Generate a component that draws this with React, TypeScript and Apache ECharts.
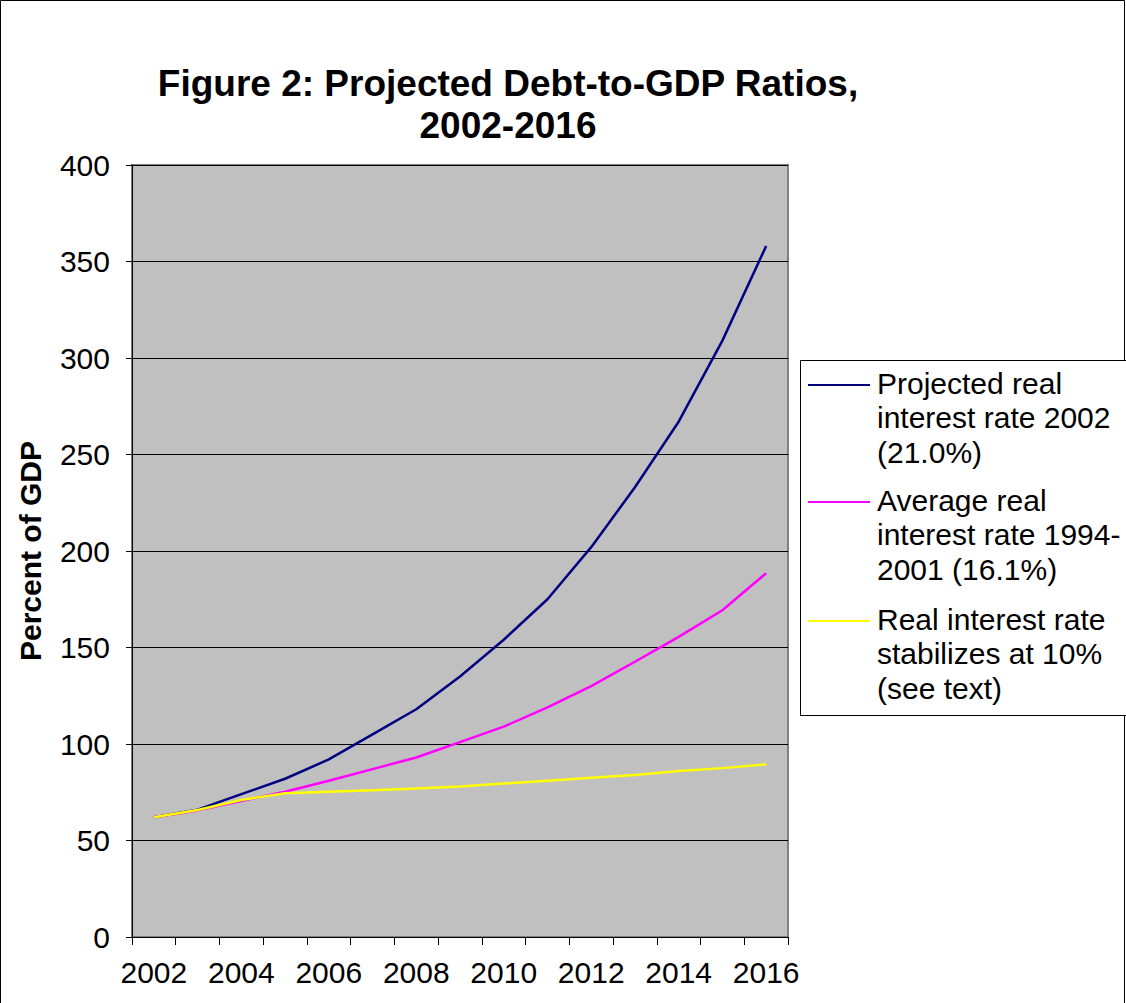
import React, { useEffect, useRef } from "react";
import * as echarts from "echarts";

const years = ["2002","2003","2004","2005","2006","2007","2008","2009","2010","2011","2012","2013","2014","2015","2016"];
const seriesNames = [
  "Projected real\ninterest rate 2002\n(21.0%)",
  "Average real\ninterest rate 1994-\n2001 (16.1%)",
  "Real interest rate\nstabilizes at 10%\n(see text)",
];
const projected2002 = [62, 66, 74, 82, 92, 105, 118, 135, 154, 175, 202, 233, 267, 309, 358];
const average9401 = [62, 65.6, 70.5, 75.3, 81, 87, 93, 101, 109, 119, 130, 142.6, 155.5, 169.3, 188.5];
const stabilizes10 = [62, 65.8, 71, 74.5, 75.3, 76, 77, 78, 79.5, 81, 82.5, 84, 86, 87.5, 89.5];
const colors = ["#000080", "#FF00FF", "#FFFF00"];
const yTicks = { min: 0, max: 400, interval: 50 };

const FONT = "Liberation Sans, Arial, sans-serif";

export default function App() {
  const ref = useRef<HTMLDivElement>(null);
  useEffect(() => {
    if (!ref.current) return;
    const chart = echarts.init(ref.current, undefined, { renderer: "svg" });
    const data = [projected2002, average9401, stabilizes10];

    const legendX = 800, legendY = 360, legendW = 340, legendH = 355;
    const legendItems: any[] = [];
    const blockTops = [366, 483, 602];
    seriesNames.forEach((name, i) => {
      const y0 = blockTops[i];
      legendItems.push({
        type: "line",
        shape: { x1: 808, y1: y0 + 19, x2: 870, y2: y0 + 19 },
        style: { stroke: colors[i], lineWidth: 2 },
      });
      legendItems.push({
        type: "text",
        x: 877,
        y: y0,
        style: { text: name, font: `30px ${FONT}`, fill: "#000", lineHeight: 34.5 },
      });
    });

    chart.setOption({
      animation: false,
      backgroundColor: "#fff",
      textStyle: { fontFamily: FONT },
      title: {
        text: "Figure 2: Projected Debt-to-GDP Ratios,\n2002-2016",
        left: 503,
        top: 57,
        textAlign: "center",
        textStyle: { fontSize: 37, fontWeight: "bold", color: "#000", lineHeight: 42, fontFamily: FONT },
      },
      grid: {
        left: 132,
        top: 165,
        width: 656,
        height: 772,
        show: true,
        backgroundColor: "#C0C0C0",
        borderColor: "#808080",
        borderWidth: 2,
      },
      xAxis: {
        type: "category",
        data: years,
        boundaryGap: true,
        axisLine: { show: true, lineStyle: { color: "#000", width: 1 } },
        axisTick: { show: true, interval: 0, length: 8, lineStyle: { color: "#000" } },
        axisLabel: { interval: 1, fontSize: 30, color: "#000", margin: 20, fontFamily: FONT },
        splitLine: { show: false },
      },
      yAxis: {
        type: "value",
        min: yTicks.min,
        max: yTicks.max,
        interval: yTicks.interval,
        name: "Percent of GDP",
        nameLocation: "middle",
        nameGap: 87,
        nameRotate: 90,
        nameTextStyle: { fontSize: 30, fontWeight: "bold", color: "#000", fontFamily: FONT },
        axisLine: { show: true, lineStyle: { color: "#000", width: 1 } },
        axisTick: { show: true, length: 6, lineStyle: { color: "#000" } },
        axisLabel: { fontSize: 30, color: "#000", margin: 22, fontFamily: FONT },
        splitLine: { show: true, lineStyle: { color: "#000", width: 1 } },
      },
      series: data.map((d, i) => ({
        name: seriesNames[i],
        type: "line",
        data: d,
        symbol: "none",
        lineStyle: { color: colors[i], width: 2.5 },
        itemStyle: { color: colors[i] },
        z: 2 + i,
      })),
      graphic: [
        {
          type: "rect",
          shape: { x: 0.5, y: 0.5, width: 1124, height: 1010 },
          style: { fill: "none", stroke: "#000", lineWidth: 1 },
          silent: true,
        },
        {
          type: "rect",
          shape: { x: legendX + 0.5, y: legendY + 0.5, width: legendW, height: legendH },
          style: { fill: "#fff", stroke: "#000", lineWidth: 1 },
        },
        ...legendItems,
      ],
    });
    return () => chart.dispose();
  }, []);
  return (
    <div
      ref={ref}
      style={{ position: "absolute", left: 0, top: 0, width: 1126, height: 1003 }}
    />
  );
}
